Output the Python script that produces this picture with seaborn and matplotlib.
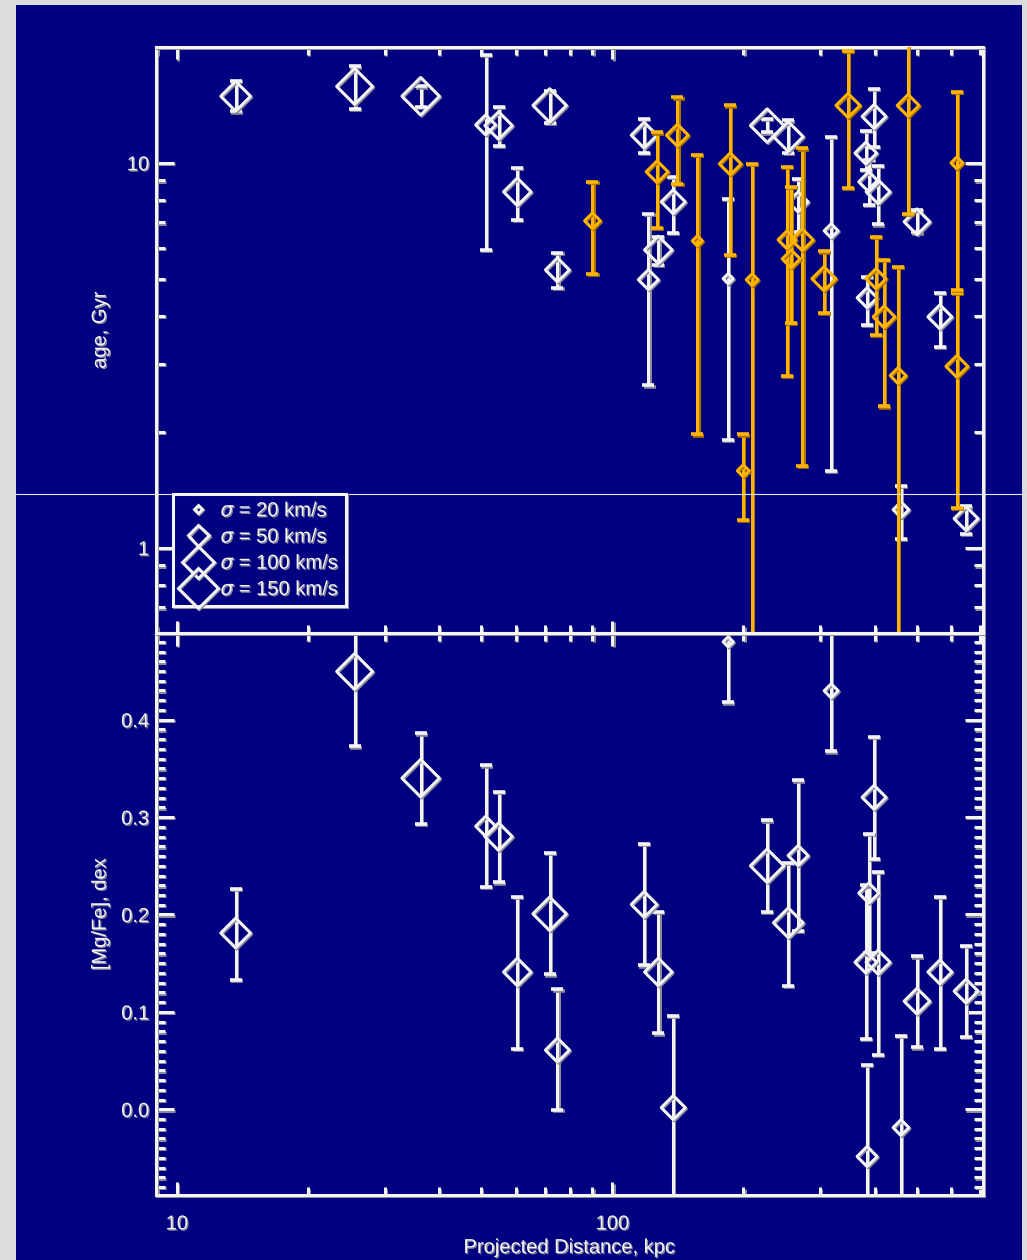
import numpy as np
import pandas as pd
import matplotlib
matplotlib.use("Agg")
import matplotlib.pyplot as plt
import matplotlib.patheffects as pe
from matplotlib.lines import Line2D
from matplotlib.patches import Rectangle
from matplotlib.transforms import blended_transform_factory
from matplotlib.ticker import (LogLocator, MultipleLocator, FuncFormatter,
                               NullFormatter, FormatStrFormatter)
import seaborn as sns

# ---------------- data ----------------
# galaxies with both an age and an [Mg/Fe] measurement
dist_w = [13.65, 25.6, 36.3, 51.2, 54.8, 60.5, 71.8, 74.8, 118.3, 121.0,
          127.5, 138.0, 184.5, 226.7, 253.5, 267.0, 318.0, 399.0, 382.0, 388.0,
          407.5, 384.6, 500.6, 565.0, 460.0, 649.0]
age_w = [14.9, 15.8, 14.9, 12.55, 12.5, 8.41, 14.1, 5.27, 11.8, 4.97,
         5.94, 7.92, 5.0, 12.5, 11.7, 7.92, 6.66, 13.2, 10.6, 8.93,
         8.41, 4.46, 7.03, 3.98, 1.255, 1.19]
age_w_lo = [13.6, 13.8, 14.0, 5.94, 11.07, 7.11, 12.7, 4.73, 10.6, 2.64,
            5.43, 6.58, 1.91, 12.0, 10.6, 6.6, 1.58, 11.0, 9.6, 7.78,
            6.92, 3.79, 6.6, 3.33, 1.055, 1.086]
age_w_hi = [16.3, 17.8, 15.8, 19.1, 14.0, 9.7, 15.4, 5.84, 13.0, 7.38,
            6.43, 9.2, 8.06, 13.0, 12.9, 9.09, 11.7, 15.6, 12.1, 10.2,
            9.82, 5.06, 7.55, 4.59, 1.45, 1.28]
mgfe_w = [0.181, 0.4495, 0.340, 0.2906, 0.280, 0.141, 0.2007, 0.0608, 0.2103, np.nan,
          0.141, 0.0017, 0.480, 0.250, 0.1915, 0.2605, 0.4297, 0.3203, 0.151, 0.222,
          0.151, -0.0485, 0.111, 0.141, -0.0188, 0.1213]
mgfe_w_lo = [0.133, 0.3726, 0.293, 0.228, 0.233, 0.0623, 0.1385, -0.0007, 0.1477, np.nan,
             0.078, -0.12, 0.4178, 0.2028, 0.127, 0.183, 0.3675, 0.2574, 0.0725, 0.16,
             0.056, -0.15, 0.0636, 0.0623, -0.15, 0.0746]
mgfe_w_hi = [0.226, 0.50, 0.386, 0.353, 0.326, 0.218, 0.2633, 0.123, 0.2725, np.nan,
             0.2028, 0.0957, 0.52, 0.2967, 0.253, 0.3377, 0.52, 0.382, 0.23, 0.283,
             0.244, 0.0457, 0.157, 0.218, 0.0752, 0.168]
sigma_w = [90, 125, 135, 48, 80, 80, 110, 64, 72, 48,
           80, 64, 25, 110, 90, 48, 34, 64, 54, 48,
           64, 48, 72, 64, 38, 64]

# galaxies with an age only
dist_o = [90.0, 126.7, 141.0, 156.7, 186.5, 209.4, 199.8, 251.8, 257.4, 273.0,
          306.0, 347.6, 403.0, 420.7, 452.9, 477.6, 618.0, 618.0]
age_o = [7.07, 9.48, 11.8, 6.27, 9.94, 4.97, 1.585, 6.31, 5.63, 6.31,
         5.0, 14.1, 5.0, 3.98, 2.80, 14.1, 10.0, 2.96]
age_o_lo = [5.15, 6.78, 8.82, 1.97, 5.77, 0.3, 1.18, 2.8, 3.84, 1.63,
            4.07, 8.61, 3.57, 2.33, 0.3, 7.38, 4.59, 1.27]
age_o_hi = [8.93, 12.0, 14.8, 10.5, 14.1, 9.92, 1.97, 9.78, 8.67, 10.9,
            5.89, 19.5, 6.43, 5.6, 5.37, 21.0, 15.3, 4.67]
sigma_o = [38, 54, 54, 25, 54, 29, 29, 43, 43, 54,
           64, 64, 48, 54, 38, 54, 29, 54]

legend_sigma = [20, 50, 100, 150]

# ---------------- style ----------------
NAVY = "#000080"
GREY = "#dcdcdc"
WHITE = "#f4f4f4"
ORANGE = "#ffb400"
SHADE = "#8a8a9a"
ORANGE_SHADE = "#a87400"
FS = 14.5

sns.set_theme(style="ticks", rc={
    "axes.facecolor": NAVY,
    "axes.edgecolor": WHITE,
    "axes.linewidth": 2.2,
    "xtick.color": WHITE,
    "ytick.color": WHITE,
    "text.color": WHITE,
    "axes.labelcolor": WHITE,
    "mathtext.fontset": "dejavusans",
})
plt.rcParams["font.family"] = ["Liberation Sans", "DejaVu Sans"]


def shadow(color):
    return [pe.SimpleLineShadow(offset=(0.9, -0.9), shadow_color=color, alpha=1.0),
            pe.Normal()]


text_fx = [pe.withSimplePatchShadow(offset=(0.9, -0.9), shadow_rgbFace=SHADE, alpha=1.0)]

# diamond half-width (px) for each velocity dispersion
size_sigma = [20, 50, 100, 150]
size_halfwidth = [4.0, 10.5, 16.0, 20.0]


def marker_area(sig):
    hw = np.interp(sig, size_sigma, size_halfwidth)
    return (hw / 0.982) ** 2


fig = plt.figure(figsize=(10.27, 12.6), dpi=100, facecolor=GREY)
fig.add_artist(Rectangle((16 / 1027, 0), (1022 - 16) / 1027, 1 - 5 / 1260,
                         transform=fig.transFigure, facecolor=NAVY,
                         edgecolor="none", zorder=-5))

ax_top = fig.add_axes([0.1519, 0.4976, 0.8053, 0.4651])
ax_bot = fig.add_axes([0.1519, 0.0516, 0.8053, 0.4460])

df_w = pd.DataFrame({"dist": dist_w, "age": age_w, "age_lo": age_w_lo,
                     "age_hi": age_w_hi, "mgfe": mgfe_w, "mgfe_lo": mgfe_w_lo,
                     "mgfe_hi": mgfe_w_hi, "sigma": sigma_w})
df_o = pd.DataFrame({"dist": dist_o, "age": age_o, "age_lo": age_o_lo,
                     "age_hi": age_o_hi, "sigma": sigma_o})

all_sig = sorted(set(sigma_w) | set(sigma_o))
size_map = {s: marker_area(s) for s in all_sig}

eb_kw = dict(fmt="none", elinewidth=2.2, capsize=4.3, capthick=2.6)

for ax in (ax_top, ax_bot):
    ax.set_xscale("log")
ax_top.set_yscale("log")

# ---- upper panel: age ----
ew = ax_top.errorbar(df_w["dist"], df_w["age"],
                     yerr=[df_w["age"] - df_w["age_lo"], df_w["age_hi"] - df_w["age"]],
                     ecolor=WHITE, zorder=2, **eb_kw)
for art in ew.lines[1] + ew.lines[2]:
    art.set_path_effects(shadow(SHADE))
sns.scatterplot(data=df_w, x="dist", y="age", size="sigma", sizes=size_map,
                marker="D", facecolor="none", edgecolor=WHITE, linewidth=2.1,
                legend=False, ax=ax_top, zorder=3, path_effects=shadow(SHADE))

eo = ax_top.errorbar(df_o["dist"], df_o["age"],
                     yerr=[df_o["age"] - df_o["age_lo"], df_o["age_hi"] - df_o["age"]],
                     ecolor=ORANGE, zorder=3.5, **eb_kw)
for art in eo.lines[1] + eo.lines[2]:
    art.set_path_effects(shadow(ORANGE_SHADE))
sns.scatterplot(data=df_o, x="dist", y="age", size="sigma", sizes=size_map,
                marker="D", facecolor="none", edgecolor=ORANGE, linewidth=2.1,
                legend=False, ax=ax_top, zorder=4, path_effects=shadow(ORANGE_SHADE))

# ---- lower panel: [Mg/Fe] ----
dm = df_w.dropna(subset=["mgfe"])
eb = ax_bot.errorbar(dm["dist"], dm["mgfe"],
                     yerr=[dm["mgfe"] - dm["mgfe_lo"], dm["mgfe_hi"] - dm["mgfe"]],
                     ecolor=WHITE, zorder=2, **eb_kw)
for art in eb.lines[1] + eb.lines[2]:
    art.set_path_effects(shadow(SHADE))
sns.scatterplot(data=dm, x="dist", y="mgfe", size="sigma", sizes=size_map,
                marker="D", facecolor="none", edgecolor=WHITE, linewidth=2.1,
                legend=False, ax=ax_bot, zorder=3, path_effects=shadow(SHADE))

# ---- axes ----
for ax in (ax_top, ax_bot):
    ax.set_xlim(8.96, 710)
    ax.xaxis.set_major_locator(LogLocator(base=10, numticks=10))
    ax.xaxis.set_minor_locator(LogLocator(base=10, subs=np.arange(2, 10), numticks=10))
    ax.xaxis.set_minor_formatter(NullFormatter())
    ax.tick_params(which="both", direction="in", top=True, right=True,
                   width=2.2, labelsize=FS, colors=WHITE)
    ax.tick_params(axis="x", which="major", length=9, pad=14)
    ax.tick_params(axis="x", which="minor", length=5.5)
    ax.tick_params(axis="y", which="major", length=13, pad=5)
    ax.tick_params(axis="y", which="minor", length=6.5)
    for sp in ax.spines.values():
        sp.set_color(WHITE)
        sp.set_linewidth(2.2)
        sp.set_path_effects(shadow(SHADE))
    ax.set_xlabel("")
    ax.set_ylabel("")

ax_top.set_ylim(0.6, 20)
ax_top.yaxis.set_major_locator(LogLocator(base=10, numticks=10))
ax_top.yaxis.set_minor_locator(LogLocator(base=10, subs=np.arange(2, 10), numticks=10))
ax_top.yaxis.set_major_formatter(FuncFormatter(lambda v, _: f"{v:g}"))
ax_top.yaxis.set_minor_formatter(NullFormatter())
ax_top.xaxis.set_major_formatter(NullFormatter())

ax_bot.set_ylim(-0.088, 0.489)
ax_bot.yaxis.set_major_locator(MultipleLocator(0.1))
ax_bot.yaxis.set_minor_locator(MultipleLocator(0.01))
ax_bot.yaxis.set_major_formatter(FormatStrFormatter("%.1f"))
ax_bot.xaxis.set_major_formatter(FuncFormatter(lambda v, _: f"{v:g}"))

ax_top.set_ylabel("age, Gyr", fontsize=FS, path_effects=text_fx)
ax_top.yaxis.set_label_coords(-0.056, 0.517)
ax_bot.set_ylabel("[Mg/Fe], dex", fontsize=FS, path_effects=text_fx)
ax_bot.yaxis.set_label_coords(-0.056, 0.5)
ax_bot.set_xlabel("Projected Distance, kpc", fontsize=FS, path_effects=text_fx)
ax_bot.xaxis.set_label_coords(0.5, -0.0765)

for ax in (ax_top, ax_bot):
    for t in ax.get_xticklabels() + ax.get_yticklabels():
        t.set_path_effects(text_fx)
    for tick in ax.xaxis.get_major_ticks() + ax.yaxis.get_major_ticks() + \
            ax.xaxis.get_minor_ticks() + ax.yaxis.get_minor_ticks():
        tick.tick1line.set_path_effects(shadow(SHADE))
        tick.tick2line.set_path_effects(shadow(SHADE))
        tick.label1.set_path_effects(text_fx)

# ---- legend of diamond sizes ----
handles = [Line2D([], [], ls="none", marker="D",
                  ms=np.interp(s, size_sigma, size_halfwidth) / 0.982,
                  mfc="none", mec=WHITE, mew=2.1, path_effects=shadow(SHADE))
           for s in legend_sigma]
labels = [rf"$\sigma$ = {s} km/s" for s in legend_sigma]
leg = ax_top.legend(handles, labels, loc="lower left",
                    bbox_to_anchor=(0.0206, 0.046), borderaxespad=0,
                    frameon=True, fancybox=False, framealpha=1,
                    facecolor=NAVY, edgecolor=WHITE, fontsize=FS,
                    labelcolor=WHITE, handlelength=1.8, handletextpad=0.2,
                    labelspacing=0.36, borderpad=0.35)
leg.get_frame().set_linewidth(2.2)
leg.get_frame().set_path_effects(shadow(SHADE))
leg.set_zorder(10)
for t in leg.get_texts():
    t.set_path_effects(text_fx)

# thin rule running across the page
tr = blended_transform_factory(fig.transFigure, ax_top.transAxes)
ax_top.add_line(Line2D([16 / 1027, 1.0], [0.2372, 0.2372], transform=tr,
                       color="#e6e6e6", lw=0.8, clip_on=False, zorder=6))

fig.savefig("out.png", dpi=100, facecolor=fig.get_facecolor())
